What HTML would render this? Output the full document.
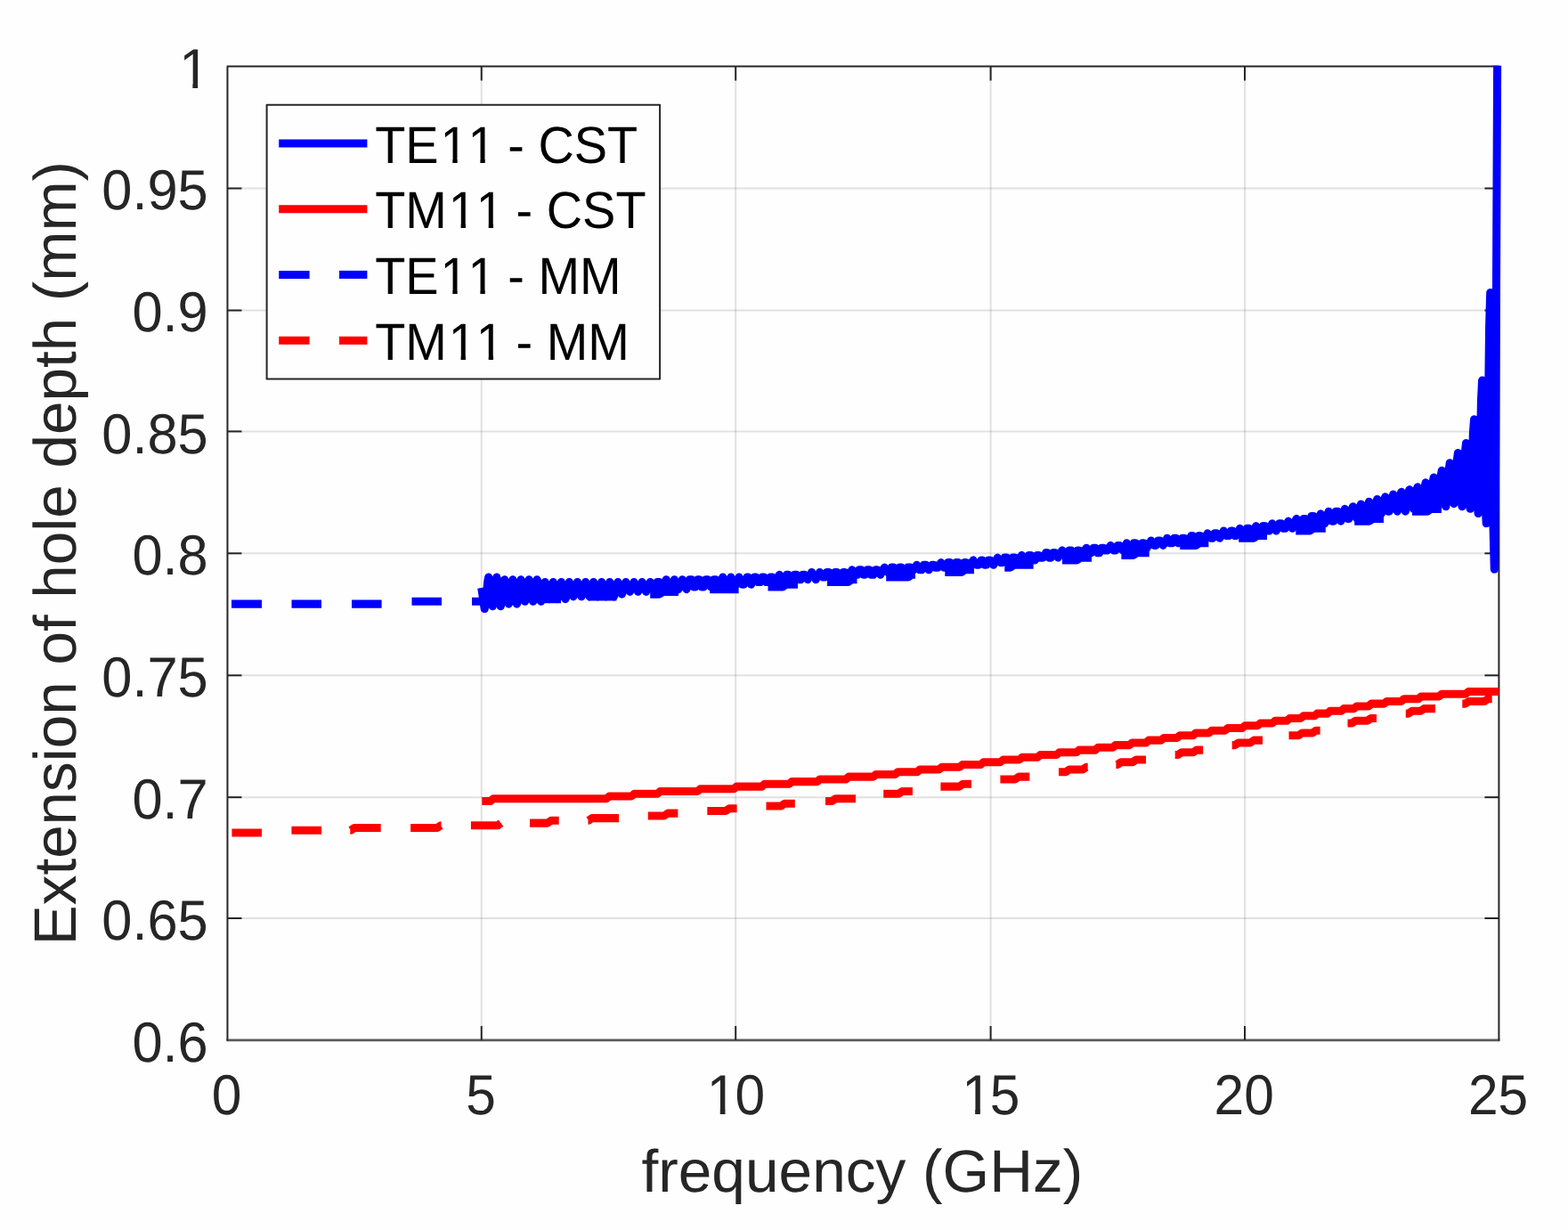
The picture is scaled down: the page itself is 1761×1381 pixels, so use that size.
<!DOCTYPE html>
<html lang="en">
<head>
<meta charset="utf-8">
<title>Extension of hole depth vs frequency</title>
<style>
html,body{margin:0;padding:0;background:#fefefe;}
body{width:1761px;height:1381px;overflow:hidden;position:relative;}
svg{display:block;}
svg text{white-space:pre;text-rendering:geometricPrecision;font-kerning:none;font-variant-ligatures:none;}
</style>
</head>
<body>
<svg width="1761" height="1381" viewBox="0 0 1761 1381" style="position:absolute;left:0;top:0">
<defs><clipPath id="ax"><rect x="254.4" y="73.8" width="1433.1" height="1095.4"/></clipPath></defs>
<rect x="0" y="0" width="1761" height="1381" fill="#fefefe"/>
<g stroke="#262626" stroke-opacity="0.135" stroke-width="2" fill="none"><line x1="540.75" y1="74.50" x2="540.75" y2="1167.95"/><line x1="826.20" y1="74.50" x2="826.20" y2="1167.95"/><line x1="1112.60" y1="74.50" x2="1112.60" y2="1167.95"/><line x1="1398.00" y1="74.50" x2="1398.00" y2="1167.95"/><line x1="255.45" y1="211.50" x2="1683.40" y2="211.50"/><line x1="255.45" y1="348.50" x2="1683.40" y2="348.50"/><line x1="255.45" y1="484.40" x2="1683.40" y2="484.40"/><line x1="255.45" y1="621.30" x2="1683.40" y2="621.30"/><line x1="255.45" y1="758.30" x2="1683.40" y2="758.30"/><line x1="255.45" y1="895.15" x2="1683.40" y2="895.15"/><line x1="255.45" y1="1031.00" x2="1683.40" y2="1031.00"/></g>
<g stroke="#262626" stroke-width="2" fill="none" stroke-linecap="butt" stroke-linejoin="round"><polyline points="255.45,1168.55 255.45,74.50 1683.40,74.50 1683.40,1168.55"/><line x1="254.45" y1="1167.95" x2="1684.40" y2="1167.95" stroke-width="2.7" stroke-opacity="0.76"/><line x1="540.75" y1="1167.95" x2="540.75" y2="1151.95"/><line x1="540.75" y1="74.50" x2="540.75" y2="90.50"/><line x1="826.20" y1="1167.95" x2="826.20" y2="1151.95"/><line x1="826.20" y1="74.50" x2="826.20" y2="90.50"/><line x1="1112.60" y1="1167.95" x2="1112.60" y2="1151.95"/><line x1="1112.60" y1="74.50" x2="1112.60" y2="90.50"/><line x1="1398.00" y1="1167.95" x2="1398.00" y2="1151.95"/><line x1="1398.00" y1="74.50" x2="1398.00" y2="90.50"/><line x1="255.45" y1="211.50" x2="271.45" y2="211.50"/><line x1="1683.40" y1="211.50" x2="1667.40" y2="211.50"/><line x1="255.45" y1="348.50" x2="271.45" y2="348.50"/><line x1="1683.40" y1="348.50" x2="1667.40" y2="348.50"/><line x1="255.45" y1="484.40" x2="271.45" y2="484.40"/><line x1="1683.40" y1="484.40" x2="1667.40" y2="484.40"/><line x1="255.45" y1="621.30" x2="271.45" y2="621.30"/><line x1="1683.40" y1="621.30" x2="1667.40" y2="621.30"/><line x1="255.45" y1="758.30" x2="271.45" y2="758.30"/><line x1="1683.40" y1="758.30" x2="1667.40" y2="758.30"/><line x1="255.45" y1="895.15" x2="271.45" y2="895.15"/><line x1="1683.40" y1="895.15" x2="1667.40" y2="895.15"/><line x1="255.45" y1="1031.00" x2="271.45" y2="1031.00"/><line x1="1683.40" y1="1031.00" x2="1667.40" y2="1031.00"/></g>
<g clip-path="url(#ax)">
<polyline points="540.7,660.0 541.6,665.9 542.5,671.7 543.3,677.6 544.2,683.5 545.3,678.1 546.5,667.1 547.6,653.5 548.7,648.0 549.8,653.5 551.0,664.4 552.1,675.3 553.3,680.8 554.4,675.3 555.5,664.4 556.6,653.5 557.8,648.0 558.9,653.5 560.1,664.4 561.2,675.3 562.3,680.8 563.5,675.3 564.6,667.1 565.7,656.2 566.8,650.7 568.0,656.2 569.1,664.4 570.3,675.3 571.4,678.1 572.5,675.3 573.7,664.4 574.8,656.2 575.9,650.7 577.1,656.2 578.2,664.4 579.3,675.3 580.5,678.1 581.6,675.3 582.7,664.4 583.9,656.2 585.0,650.7 586.1,653.5 587.3,664.4 588.4,672.6 589.6,675.3 590.7,672.6 591.8,664.4 592.9,653.5 594.1,650.7 595.2,653.5 596.3,664.4 597.5,672.6 598.6,675.3 599.8,672.6 600.9,664.4 602.0,653.5 603.1,650.7 604.3,653.5 605.4,664.4 606.6,672.6 607.7,675.3 608.8,672.6 610.0,664.4 611.1,656.2 612.2,653.5 613.4,656.2 614.5,664.4 615.6,669.9 616.8,672.6 617.9,669.9 619.0,664.4 620.2,656.2 621.3,653.5 622.4,656.2 623.6,664.4 624.7,669.9 625.9,672.6 627.0,669.9 628.1,664.4 629.2,656.2 630.4,653.5 631.5,656.2 632.6,664.4 633.8,669.9 634.9,672.6 636.1,669.9 637.2,664.4 638.3,656.2 639.4,653.5 640.6,656.2 641.7,661.7 642.9,667.1 644.0,669.9 645.1,667.1 646.2,661.7 647.4,656.2 648.5,653.5 649.6,656.2 650.8,661.7 651.9,667.1 653.1,669.9 654.2,667.1 655.3,661.7 656.4,656.2 657.6,653.5 658.7,656.2 659.9,661.7 661.0,667.1 662.1,669.9 663.3,667.1 664.4,661.7 665.5,656.2 666.6,653.5 667.8,656.2 668.9,661.7 670.1,667.1 671.2,669.9 672.3,667.1 673.5,661.7 674.6,656.2 675.7,653.5 676.9,656.2 678.0,661.7 679.1,667.1 680.3,669.9 681.4,667.1 682.5,661.7 683.7,656.2 684.8,653.5 685.9,656.2 687.1,661.7 688.2,667.1 689.4,669.9 690.5,667.1 691.6,661.7 692.7,656.2 693.9,653.5 695.0,656.2 696.1,661.7 697.3,664.4 698.4,667.1 699.6,664.4 700.7,661.7 701.8,656.2 702.9,653.5 704.1,656.2 705.2,658.9 706.4,661.7 707.5,664.4 708.6,661.7 709.8,658.9 710.9,656.2 712.0,653.5 713.1,656.2 714.3,658.9 715.4,661.7 716.6,664.4 717.7,661.7 718.8,658.9 720.0,656.2 721.1,653.5 722.2,656.2 723.4,658.9 724.5,661.7 725.7,664.4 726.8,661.7 727.9,658.9 729.0,656.2 730.2,653.5 731.3,656.2 732.4,658.9 733.6,661.7 734.7,661.7 735.8,661.7 737.0,658.9 738.1,653.5 739.2,653.5 740.4,653.5 741.5,658.9 742.7,661.7 743.8,661.7 744.9,661.7 746.0,656.2 747.2,653.5 748.3,650.7 749.4,653.5 750.6,656.2 751.7,661.7 752.9,661.7 754.0,658.9 755.1,656.2 756.2,653.5 757.4,650.7 758.5,653.5 759.7,656.2 760.8,658.9 761.9,661.7 763.1,658.9 764.2,656.2 765.3,653.5 766.4,650.7 767.6,653.5 768.7,656.2 769.9,658.9 771.0,661.7 772.1,658.9 773.3,656.2 774.4,650.7 775.5,650.7 776.7,650.7 777.8,656.2 778.9,658.9 780.1,658.9 781.2,658.9 782.3,656.2 783.5,650.7 784.6,650.7 785.7,650.7 786.9,653.5 788.0,658.9 789.2,658.9 790.3,658.9 791.4,653.5 792.5,650.7 793.7,650.7 794.8,650.7 795.9,653.5 797.1,656.2 798.2,658.9 799.4,656.2 800.5,653.5 801.6,650.7 802.7,650.7 803.9,650.7 805.0,653.5 806.2,656.2 807.3,658.9 808.4,656.2 809.6,653.5 810.7,650.7 811.8,648.0 812.9,650.7 814.1,653.5 815.2,656.2 816.4,656.2 817.5,656.2 818.6,653.5 819.8,650.7 820.9,648.0 822.0,650.7 823.2,653.5 824.3,656.2 825.5,656.2 826.6,656.2 827.7,653.5 828.8,650.7 830.0,648.0 831.1,650.7 832.2,653.5 833.4,656.2 834.5,656.2 835.6,656.2 836.8,653.5 837.9,650.7 839.0,648.0 840.2,648.0 841.3,650.7 842.5,653.5 843.6,656.2 844.7,653.5 845.8,650.7 847.0,648.0 848.1,648.0 849.2,648.0 850.4,650.7 851.5,653.5 852.7,653.5 853.8,653.5 854.9,650.7 856.0,648.0 857.2,648.0 858.3,648.0 859.5,650.7 860.6,653.5 861.7,653.5 862.9,653.5 864.0,650.7 865.1,648.0 866.2,648.0 867.4,648.0 868.5,650.7 869.7,653.5 870.8,653.5 871.9,653.5 873.1,650.7 874.2,648.0 875.3,645.3 876.5,648.0 877.6,648.0 878.7,650.7 879.9,653.5 881.0,650.7 882.1,648.0 883.3,645.3 884.4,645.3 885.5,645.3 886.7,648.0 887.8,650.7 889.0,650.7 890.1,650.7 891.2,648.0 892.3,645.3 893.5,645.3 894.6,645.3 895.7,648.0 896.9,650.7 898.0,650.7 899.2,650.7 900.3,648.0 901.4,645.3 902.5,645.3 903.7,645.3 904.8,648.0 906.0,648.0 907.1,650.7 908.2,648.0 909.4,648.0 910.5,645.3 911.6,642.5 912.7,645.3 913.9,645.3 915.0,648.0 916.2,650.7 917.3,648.0 918.4,645.3 919.6,645.3 920.7,642.5 921.8,645.3 923.0,645.3 924.1,648.0 925.2,648.0 926.4,648.0 927.5,645.3 928.6,642.5 929.7,642.5 930.9,642.5 932.0,645.3 933.2,648.0 934.3,648.0 935.4,648.0 936.6,645.3 937.7,642.5 938.8,642.5 940.0,642.5 941.1,645.3 942.3,648.0 943.4,648.0 944.5,645.3 945.6,645.3 946.8,642.5 947.9,642.5 949.0,642.5 950.2,645.3 951.3,645.3 952.5,648.0 953.6,645.3 954.7,642.5 955.8,642.5 957.0,639.8 958.1,642.5 959.3,642.5 960.4,645.3 961.5,645.3 962.7,645.3 963.8,642.5 964.9,639.8 966.0,639.8 967.2,639.8 968.3,642.5 969.5,645.3 970.6,645.3 971.7,645.3 972.9,642.5 974.0,639.8 975.1,639.8 976.3,639.8 977.4,642.5 978.5,645.3 979.7,645.3 980.8,645.3 981.9,642.5 983.1,639.8 984.2,639.8 985.3,639.8 986.5,642.5 987.6,642.5 988.8,645.3 989.9,642.5 991.0,639.8 992.1,639.8 993.3,637.1 994.4,639.8 995.5,639.8 996.7,642.5 997.8,642.5 999.0,642.5 1000.1,639.8 1001.2,637.1 1002.3,637.1 1003.5,637.1 1004.6,639.8 1005.8,642.5 1006.9,642.5 1008.0,642.5 1009.2,639.8 1010.3,637.1 1011.4,637.1 1012.5,637.1 1013.7,639.8 1014.8,639.8 1016.0,642.5 1017.1,639.8 1018.2,639.8 1019.3,637.1 1020.5,637.1 1021.6,637.1 1022.8,637.1 1023.9,639.8 1025.0,639.8 1026.2,639.8 1027.3,637.1 1028.4,637.1 1029.5,634.3 1030.7,637.1 1031.8,637.1 1033.0,639.8 1034.1,639.8 1035.2,639.8 1036.4,637.1 1037.5,634.3 1038.6,634.3 1039.8,634.3 1040.9,637.1 1042.0,637.1 1043.2,639.8 1044.3,637.1 1045.4,637.1 1046.6,634.3 1047.7,634.3 1048.8,634.3 1050.0,637.1 1051.1,637.1 1052.3,637.1 1053.4,637.1 1054.5,634.3 1055.6,634.3 1056.8,631.6 1057.9,634.3 1059.1,634.3 1060.2,637.1 1061.3,637.1 1062.5,637.1 1063.6,634.3 1064.7,631.6 1065.8,631.6 1067.0,631.6 1068.1,634.3 1069.3,637.1 1070.4,637.1 1071.5,637.1 1072.7,634.3 1073.8,631.6 1074.9,631.6 1076.1,631.6 1077.2,634.3 1078.3,634.3 1079.5,637.1 1080.6,634.3 1081.7,634.3 1082.9,631.6 1084.0,631.6 1085.1,631.6 1086.3,634.3 1087.4,634.3 1088.6,634.3 1089.7,634.3 1090.8,631.6 1091.9,631.6 1093.1,628.9 1094.2,631.6 1095.3,631.6 1096.5,634.3 1097.6,634.3 1098.8,634.3 1099.9,631.6 1101.0,631.6 1102.1,628.9 1103.3,628.9 1104.4,631.6 1105.6,634.3 1106.7,634.3 1107.8,634.3 1109.0,631.6 1110.1,628.9 1111.2,628.9 1112.3,628.9 1113.5,631.6 1114.6,631.6 1115.8,634.3 1116.9,631.6 1118.0,631.6 1119.1,628.9 1120.3,626.1 1121.4,628.9 1122.6,628.9 1123.7,631.6 1124.8,631.6 1126.0,631.6 1127.1,628.9 1128.2,626.1 1129.3,626.1 1130.5,626.1 1131.6,628.9 1132.8,631.6 1133.9,631.6 1135.0,631.6 1136.2,628.9 1137.3,626.1 1138.4,626.1 1139.6,626.1 1140.7,628.9 1141.8,628.9 1143.0,631.6 1144.1,628.9 1145.2,626.1 1146.4,626.1 1147.5,623.4 1148.6,626.1 1149.8,626.1 1150.9,628.9 1152.1,628.9 1153.2,628.9 1154.3,626.1 1155.4,623.4 1156.6,623.4 1157.7,623.4 1158.8,626.1 1160.0,628.9 1161.1,628.9 1162.3,628.9 1163.4,626.1 1164.5,623.4 1165.6,623.4 1166.8,623.4 1167.9,626.1 1169.1,626.1 1170.2,626.1 1171.3,626.1 1172.5,623.4 1173.6,623.4 1174.7,620.6 1175.9,620.6 1177.0,623.4 1178.1,626.1 1179.3,626.1 1180.4,626.1 1181.5,623.4 1182.7,620.6 1183.8,620.6 1184.9,620.6 1186.1,623.4 1187.2,623.4 1188.4,626.1 1189.5,623.4 1190.6,623.4 1191.7,620.6 1192.9,617.9 1194.0,620.6 1195.1,620.6 1196.3,623.4 1197.4,623.4 1198.6,623.4 1199.7,620.6 1200.8,617.9 1201.9,617.9 1203.1,617.9 1204.2,620.6 1205.4,623.4 1206.5,623.4 1207.6,623.4 1208.7,620.6 1209.9,617.9 1211.0,617.9 1212.1,617.9 1213.3,620.6 1214.4,620.6 1215.6,623.4 1216.7,620.6 1217.8,617.9 1218.9,617.9 1220.1,615.2 1221.2,617.9 1222.4,617.9 1223.5,620.6 1224.6,620.6 1225.8,620.6 1226.9,617.9 1228.0,615.2 1229.1,615.2 1230.3,615.2 1231.4,617.9 1232.6,620.6 1233.7,620.6 1234.8,620.6 1236.0,617.9 1237.1,615.2 1238.2,615.2 1239.4,615.2 1240.5,617.9 1241.6,617.9 1242.8,617.9 1243.9,617.9 1245.0,615.2 1246.2,615.2 1247.3,612.4 1248.4,615.2 1249.6,615.2 1250.7,617.9 1251.9,617.9 1253.0,617.9 1254.1,615.2 1255.2,612.4 1256.4,612.4 1257.5,612.4 1258.6,615.2 1259.8,615.2 1260.9,617.9 1262.1,615.2 1263.2,615.2 1264.3,612.4 1265.4,609.7 1266.6,612.4 1267.7,612.4 1268.9,615.2 1270.0,615.2 1271.1,615.2 1272.3,612.4 1273.4,609.7 1274.5,609.7 1275.6,609.7 1276.8,612.4 1277.9,615.2 1279.1,615.2 1280.2,615.2 1281.3,612.4 1282.5,609.7 1283.6,609.7 1284.7,609.7 1285.9,612.4 1287.0,612.4 1288.2,615.2 1289.3,612.4 1290.4,609.7 1291.5,609.7 1292.7,607.0 1293.8,609.7 1294.9,609.7 1296.1,612.4 1297.2,612.4 1298.3,612.4 1299.5,609.7 1300.6,607.0 1301.7,607.0 1302.9,607.0 1304.0,609.7 1305.2,609.7 1306.3,612.4 1307.4,609.7 1308.5,609.7 1309.7,607.0 1310.8,604.2 1311.9,607.0 1313.1,607.0 1314.2,609.7 1315.4,609.7 1316.5,609.7 1317.6,607.0 1318.7,604.2 1319.9,604.2 1321.0,604.2 1322.2,607.0 1323.3,609.7 1324.4,609.7 1325.6,609.7 1326.7,607.0 1327.8,604.2 1328.9,604.2 1330.1,604.2 1331.2,607.0 1332.4,607.0 1333.5,607.0 1334.6,607.0 1335.8,604.2 1336.9,604.2 1338.0,601.5 1339.2,601.5 1340.3,604.2 1341.4,607.0 1342.6,607.0 1343.7,607.0 1344.8,604.2 1346.0,601.5 1347.1,601.5 1348.2,601.5 1349.4,604.2 1350.5,604.2 1351.7,607.0 1352.8,604.2 1353.9,601.5 1355.0,601.5 1356.2,598.8 1357.3,601.5 1358.4,601.5 1359.6,604.2 1360.7,604.2 1361.9,604.2 1363.0,601.5 1364.1,598.8 1365.2,598.8 1366.4,598.8 1367.5,601.5 1368.7,601.5 1369.8,604.2 1370.9,601.5 1372.1,601.5 1373.2,598.8 1374.3,596.0 1375.4,598.8 1376.6,598.8 1377.7,601.5 1378.9,601.5 1380.0,601.5 1381.1,598.8 1382.3,596.0 1383.4,596.0 1384.5,596.0 1385.7,598.8 1386.8,601.5 1388.0,601.5 1389.1,598.8 1390.2,598.8 1391.3,596.0 1392.5,593.3 1393.6,596.0 1394.7,596.0 1395.9,598.8 1397.0,598.8 1398.1,598.8 1399.3,596.0 1400.4,593.3 1401.5,593.3 1402.7,593.3 1403.8,596.0 1405.0,598.8 1406.1,598.8 1407.2,598.8 1408.3,596.0 1409.5,593.3 1410.6,590.6 1411.7,593.3 1412.9,593.3 1414.0,596.0 1415.2,598.8 1416.3,596.0 1417.4,593.3 1418.5,590.6 1419.7,590.6 1420.8,590.6 1422.0,593.3 1423.1,596.0 1424.2,596.0 1425.4,596.0 1426.5,593.3 1427.6,590.6 1428.7,587.8 1429.9,590.6 1431.0,593.3 1432.2,593.3 1433.3,596.0 1434.4,593.3 1435.6,590.6 1436.7,587.8 1437.8,587.8 1439.0,587.8 1440.1,590.6 1441.2,593.3 1442.4,593.3 1443.5,593.3 1444.6,590.6 1445.8,587.8 1446.9,585.1 1448.0,587.8 1449.2,587.8 1450.3,590.6 1451.5,593.3 1452.6,590.6 1453.7,587.8 1454.8,585.1 1456.0,582.4 1457.1,585.1 1458.2,587.8 1459.4,590.6 1460.5,590.6 1461.7,590.6 1462.8,585.1 1463.9,582.4 1465.0,582.4 1466.2,582.4 1467.3,585.1 1468.5,587.8 1469.6,590.6 1470.7,587.8 1471.9,585.1 1473.0,579.6 1474.1,579.6 1475.2,579.6 1476.4,585.1 1477.5,587.8 1478.7,587.8 1479.8,587.8 1480.9,582.4 1482.1,579.6 1483.2,576.9 1484.3,579.6 1485.5,582.4 1486.6,585.1 1487.7,587.8 1488.9,585.1 1490.0,582.4 1491.1,576.9 1492.2,574.2 1493.4,576.9 1494.5,579.6 1495.7,585.1 1496.8,585.1 1497.9,585.1 1499.1,579.6 1500.2,574.2 1501.3,574.2 1502.5,574.2 1503.6,579.6 1504.8,582.4 1505.9,585.1 1507.0,582.4 1508.1,576.9 1509.3,574.2 1510.4,571.4 1511.5,574.2 1512.7,576.9 1513.8,582.4 1515.0,582.4 1516.1,579.6 1517.2,576.9 1518.3,571.4 1519.5,568.7 1520.6,571.4 1521.8,574.2 1522.9,579.6 1524.0,582.4 1525.2,579.6 1526.3,574.2 1527.4,568.7 1528.5,566.0 1529.7,568.7 1530.8,574.2 1532.0,576.9 1533.1,579.6 1534.2,576.9 1535.4,571.4 1536.5,566.0 1537.6,563.2 1538.8,566.0 1539.9,571.4 1541.0,576.9 1542.2,579.6 1543.3,576.9 1544.4,568.7 1545.6,563.2 1546.7,560.5 1547.8,563.2 1549.0,568.7 1550.1,574.2 1551.3,576.9 1552.4,574.2 1553.5,568.7 1554.6,560.5 1555.8,557.8 1556.9,560.5 1558.0,566.0 1559.2,574.2 1560.3,574.2 1561.5,571.4 1562.6,566.0 1563.7,557.8 1564.8,555.0 1566.0,557.8 1567.1,566.0 1568.3,571.4 1569.4,574.2 1570.5,571.4 1571.7,563.2 1572.8,555.0 1573.9,552.3 1575.0,555.0 1576.2,563.2 1577.3,568.7 1578.5,574.2 1579.6,568.7 1580.7,560.5 1581.8,552.3 1583.0,549.6 1584.1,552.3 1585.3,560.5 1586.4,568.7 1587.5,571.4 1588.7,568.7 1589.8,557.8 1590.9,549.6 1592.0,546.8 1593.2,549.6 1594.3,557.8 1595.5,568.7 1596.6,571.4 1597.7,566.0 1598.9,557.8 1600.0,546.8 1601.1,541.9 1602.3,546.1 1603.4,556.1 1604.5,566.2 1605.7,570.4 1606.8,565.3 1607.9,553.2 1609.1,541.1 1610.2,536.0 1611.3,540.9 1612.5,552.8 1613.6,564.6 1614.8,569.5 1615.9,563.5 1617.0,548.9 1618.1,534.3 1619.3,528.2 1620.4,534.1 1621.6,548.5 1622.7,562.8 1623.8,568.7 1625.0,561.5 1626.1,544.2 1627.2,526.9 1628.3,519.7 1629.5,526.4 1630.6,542.6 1631.8,558.8 1632.9,565.5 1634.0,557.1 1635.2,537.1 1636.3,517.0 1637.4,508.6 1638.6,517.4 1639.7,538.6 1640.8,559.9 1642.0,568.7 1643.1,558.3 1644.2,533.1 1645.4,507.9 1646.5,497.5 1647.6,508.3 1648.8,534.4 1649.9,560.5 1651.1,571.3 1652.2,556.5 1653.3,521.0 1654.4,485.5 1655.6,470.7 1656.7,486.2 1657.8,523.6 1659.0,561.0 1660.1,576.5 1661.3,554.6 1662.4,501.8 1663.5,449.0 1664.6,427.1 1665.8,450.6 1666.9,507.4 1668.1,564.1 1669.2,587.6 1670.3,549.7 1671.5,458.1 1672.6,366.5 1673.7,328.6 1674.8,374.1 1676.0,483.9 1677.1,593.6 1678.3,639.1 1679.6,524.2 1680.8,246.8 1682.1,-30.6 1683.4,-145.5" fill="none" stroke="#0000ff" stroke-width="9.05" stroke-linejoin="round" stroke-linecap="butt"/>
<polyline points="541.3,899.5 550.9,899.5 553.9,896.7 681.2,896.7 684.2,894.0 709.3,894.0 712.3,891.3 738.3,891.3 741.3,888.5 783.4,888.5 786.4,885.8 824.1,885.8 827.1,883.1 855.6,883.1 858.6,880.3 886.2,880.3 889.2,877.6 917.8,877.6 920.8,874.9 950.1,874.9 953.1,872.1 980.8,872.1 983.8,869.4 1005.5,869.4 1008.5,866.7 1030.2,866.7 1033.2,863.9 1054.9,863.9 1057.9,861.2 1077.9,861.2 1080.9,858.5 1101.5,858.5 1104.5,855.7 1123.6,855.7 1126.6,853.0 1144.9,853.0 1147.9,850.3 1165.4,850.3 1168.4,847.5 1186.7,847.5 1189.7,844.8 1208.8,844.8 1211.8,842.1 1230.1,842.1 1233.1,839.3 1249.7,839.3 1252.7,836.6 1268.5,836.6 1271.5,833.9 1287.2,833.9 1290.2,831.1 1304.2,831.1 1307.2,828.4 1322.1,828.4 1325.1,825.7 1340.0,825.7 1343.0,822.9 1357.9,822.9 1360.9,820.2 1375.9,820.2 1378.9,817.5 1395.2,817.5 1398.2,814.7 1412.5,814.7 1415.5,812.0 1429.0,812.0 1432.0,809.3 1445.4,809.3 1448.4,806.5 1460.8,806.5 1463.8,803.8 1476.3,803.8 1479.3,801.1 1490.8,801.1 1493.8,798.3 1506.2,798.3 1509.2,795.6 1520.7,795.6 1523.7,792.9 1537.1,792.9 1540.1,790.1 1554.5,790.1 1557.5,787.4 1573.8,787.4 1576.8,784.7 1593.1,784.7 1596.1,781.9 1616.3,781.9 1619.3,779.2 1646.2,779.2 1649.2,776.5 1683.4,776.5" fill="none" stroke="#ff0000" stroke-width="9.05" stroke-linejoin="round" stroke-linecap="butt"/>
<polyline points="260.0,678.1 294.0,678.1" fill="none" stroke="#0000ff" stroke-width="9.05" stroke-linejoin="round" stroke-linecap="butt"/>
<polyline points="327.5,678.1 361.0,678.1" fill="none" stroke="#0000ff" stroke-width="9.05" stroke-linejoin="round" stroke-linecap="butt"/>
<polyline points="395.0,678.1 428.6,678.1" fill="none" stroke="#0000ff" stroke-width="9.05" stroke-linejoin="round" stroke-linecap="butt"/>
<polyline points="462.5,675.3 496.0,675.3" fill="none" stroke="#0000ff" stroke-width="9.05" stroke-linejoin="round" stroke-linecap="butt"/>
<polyline points="530.0,675.3 563.0,675.3" fill="none" stroke="#0000ff" stroke-width="9.05" stroke-linejoin="round" stroke-linecap="butt"/>
<polyline points="597.0,672.6 630.0,672.6" fill="none" stroke="#0000ff" stroke-width="9.05" stroke-linejoin="round" stroke-linecap="butt"/>
<polyline points="660.6,669.9 692.4,669.9" fill="none" stroke="#0000ff" stroke-width="9.05" stroke-linejoin="round" stroke-linecap="butt"/>
<polyline points="730.2,667.1 740.7,667.1 744.7,664.4 762.0,664.4" fill="none" stroke="#0000ff" stroke-width="9.05" stroke-linejoin="round" stroke-linecap="butt"/>
<polyline points="797.2,661.7 829.6,661.7" fill="none" stroke="#0000ff" stroke-width="9.05" stroke-linejoin="round" stroke-linecap="butt"/>
<polyline points="862.5,658.9 879.0,658.9 883.0,656.2 896.0,656.2" fill="none" stroke="#0000ff" stroke-width="9.05" stroke-linejoin="round" stroke-linecap="butt"/>
<polyline points="929.0,653.5 952.5,653.5 956.5,650.7 962.5,650.7" fill="none" stroke="#0000ff" stroke-width="9.05" stroke-linejoin="round" stroke-linecap="butt"/>
<polyline points="995.2,648.0 1020.0,648.0 1024.0,645.3 1028.0,645.3" fill="none" stroke="#0000ff" stroke-width="9.05" stroke-linejoin="round" stroke-linecap="butt"/>
<polyline points="1061.3,642.5 1079.8,642.5 1083.8,639.8 1094.0,639.8" fill="none" stroke="#0000ff" stroke-width="9.05" stroke-linejoin="round" stroke-linecap="butt"/>
<polyline points="1128.3,637.1 1134.8,637.1 1138.8,634.3 1160.6,634.3" fill="none" stroke="#0000ff" stroke-width="9.05" stroke-linejoin="round" stroke-linecap="butt"/>
<polyline points="1193.0,628.9 1209.7,628.9 1213.7,626.1 1226.0,626.1" fill="none" stroke="#0000ff" stroke-width="9.05" stroke-linejoin="round" stroke-linecap="butt"/>
<polyline points="1259.4,623.4 1273.0,623.4 1277.0,620.6 1290.7,620.6" fill="none" stroke="#0000ff" stroke-width="9.05" stroke-linejoin="round" stroke-linecap="butt"/>
<polyline points="1325.3,612.4 1343.0,612.4 1347.0,609.7 1357.4,609.7" fill="none" stroke="#0000ff" stroke-width="9.05" stroke-linejoin="round" stroke-linecap="butt"/>
<polyline points="1391.2,604.2 1408.0,604.2 1412.0,601.5 1423.0,601.5" fill="none" stroke="#0000ff" stroke-width="9.05" stroke-linejoin="round" stroke-linecap="butt"/>
<polyline points="1455.3,596.0 1471.0,596.0 1475.0,593.3 1488.8,593.3" fill="none" stroke="#0000ff" stroke-width="9.05" stroke-linejoin="round" stroke-linecap="butt"/>
<polyline points="1521.2,585.1 1538.0,585.1 1542.0,582.4 1554.0,582.4" fill="none" stroke="#0000ff" stroke-width="9.05" stroke-linejoin="round" stroke-linecap="butt"/>
<polyline points="1586.0,574.2 1603.0,574.2 1607.0,571.4 1619.0,571.4" fill="none" stroke="#0000ff" stroke-width="9.05" stroke-linejoin="round" stroke-linecap="butt"/>
<polyline points="1652.0,563.2 1668.0,563.2 1672.0,560.5 1679.0,560.5" fill="none" stroke="#0000ff" stroke-width="9.05" stroke-linejoin="round" stroke-linecap="butt"/>
<polyline points="260.4,935.0 294.0,935.0" fill="none" stroke="#ff0000" stroke-width="9.05" stroke-linejoin="round" stroke-linecap="butt"/>
<polyline points="327.4,932.3 361.1,932.3" fill="none" stroke="#ff0000" stroke-width="9.05" stroke-linejoin="round" stroke-linecap="butt"/>
<polyline points="393.3,932.3 394.0,932.3 398.0,929.5 427.7,929.5" fill="none" stroke="#ff0000" stroke-width="9.05" stroke-linejoin="round" stroke-linecap="butt"/>
<polyline points="461.1,929.5 491.0,929.5 495.0,926.8 495.5,926.8" fill="none" stroke="#ff0000" stroke-width="9.05" stroke-linejoin="round" stroke-linecap="butt"/>
<polyline points="528.9,926.8 559.0,926.8 562.6,924.1 562.6,924.1" fill="none" stroke="#ff0000" stroke-width="9.05" stroke-linejoin="round" stroke-linecap="butt"/>
<polyline points="595.0,924.1 615.0,924.1 619.0,921.3 627.7,921.3" fill="none" stroke="#ff0000" stroke-width="9.05" stroke-linejoin="round" stroke-linecap="butt"/>
<polyline points="660.5,921.3 661.0,921.3 665.0,918.6 695.0,918.6" fill="none" stroke="#ff0000" stroke-width="9.05" stroke-linejoin="round" stroke-linecap="butt"/>
<polyline points="727.8,915.9 746.0,915.9 750.0,913.1 761.4,913.1" fill="none" stroke="#ff0000" stroke-width="9.05" stroke-linejoin="round" stroke-linecap="butt"/>
<polyline points="794.3,910.4 815.0,910.4 819.0,907.7 827.6,907.7" fill="none" stroke="#ff0000" stroke-width="9.05" stroke-linejoin="round" stroke-linecap="butt"/>
<polyline points="860.5,904.9 877.2,904.9 881.2,902.2 892.8,902.2" fill="none" stroke="#ff0000" stroke-width="9.05" stroke-linejoin="round" stroke-linecap="butt"/>
<polyline points="927.0,899.5 934.3,899.5 938.3,896.7 961.0,896.7" fill="none" stroke="#ff0000" stroke-width="9.05" stroke-linejoin="round" stroke-linecap="butt"/>
<polyline points="992.2,891.3 1009.2,891.3 1013.2,888.5 1024.9,888.5" fill="none" stroke="#ff0000" stroke-width="9.05" stroke-linejoin="round" stroke-linecap="butt"/>
<polyline points="1056.4,883.1 1077.4,883.1 1081.4,880.3 1091.0,880.3" fill="none" stroke="#ff0000" stroke-width="9.05" stroke-linejoin="round" stroke-linecap="butt"/>
<polyline points="1123.4,874.9 1140.2,874.9 1144.2,872.1 1156.3,872.1" fill="none" stroke="#ff0000" stroke-width="9.05" stroke-linejoin="round" stroke-linecap="butt"/>
<polyline points="1189.0,866.7 1197.0,866.7 1201.0,863.9 1216.0,863.9 1220.0,861.2 1221.7,861.2" fill="none" stroke="#ff0000" stroke-width="9.05" stroke-linejoin="round" stroke-linecap="butt"/>
<polyline points="1253.4,858.5 1255.0,858.5 1259.0,855.7 1272.0,855.7 1276.0,853.0 1287.0,853.0" fill="none" stroke="#ff0000" stroke-width="9.05" stroke-linejoin="round" stroke-linecap="butt"/>
<polyline points="1319.7,847.5 1323.0,847.5 1327.0,844.8 1340.0,844.8 1344.0,842.1 1351.2,842.1" fill="none" stroke="#ff0000" stroke-width="9.05" stroke-linejoin="round" stroke-linecap="butt"/>
<polyline points="1383.7,836.6 1387.0,836.6 1391.0,833.9 1404.3,833.9 1408.3,831.1 1418.0,831.1" fill="none" stroke="#ff0000" stroke-width="9.05" stroke-linejoin="round" stroke-linecap="butt"/>
<polyline points="1447.5,825.7 1458.4,825.7 1462.4,822.9 1473.9,822.9 1477.9,820.2 1482.6,820.2" fill="none" stroke="#ff0000" stroke-width="9.05" stroke-linejoin="round" stroke-linecap="butt"/>
<polyline points="1513.5,812.0 1518.3,812.0 1522.3,809.3 1535.6,809.3 1539.6,806.5 1546.0,806.5" fill="none" stroke="#ff0000" stroke-width="9.05" stroke-linejoin="round" stroke-linecap="butt"/>
<polyline points="1578.8,801.1 1582.0,801.1 1586.0,798.3 1595.5,798.3 1599.5,795.6 1612.0,795.6" fill="none" stroke="#ff0000" stroke-width="9.05" stroke-linejoin="round" stroke-linecap="butt"/>
<polyline points="1642.3,790.1 1645.7,790.1 1649.7,787.4 1667.0,787.4 1671.0,784.7 1675.7,784.7" fill="none" stroke="#ff0000" stroke-width="9.05" stroke-linejoin="round" stroke-linecap="butt"/>
</g>
<text transform="translate(233.25,98.50) scale(1.0000,1.0300)" x="-34.15" dx="2.01" font-family="'Liberation Sans', Arial, Helvetica, sans-serif" font-size="61.40" fill="#262626">1</text>
<text transform="translate(233.75,235.17) scale(1.0000,1.0300)" x="-119.50" font-family="'Liberation Sans', Arial, Helvetica, sans-serif" font-size="61.40" fill="#262626">0.95</text>
<text transform="translate(233.75,371.85) scale(1.0000,1.0300)" x="-85.35" font-family="'Liberation Sans', Arial, Helvetica, sans-serif" font-size="61.40" fill="#262626">0.9</text>
<text transform="translate(233.75,508.52) scale(1.0000,1.0300)" x="-119.50" font-family="'Liberation Sans', Arial, Helvetica, sans-serif" font-size="61.40" fill="#262626">0.85</text>
<text transform="translate(233.75,645.20) scale(1.0000,1.0300)" x="-85.35" font-family="'Liberation Sans', Arial, Helvetica, sans-serif" font-size="61.40" fill="#262626">0.8</text>
<text transform="translate(233.75,781.87) scale(1.0000,1.0300)" x="-119.50" font-family="'Liberation Sans', Arial, Helvetica, sans-serif" font-size="61.40" fill="#262626">0.75</text>
<text transform="translate(233.75,918.55) scale(1.0000,1.0300)" x="-85.35" font-family="'Liberation Sans', Arial, Helvetica, sans-serif" font-size="61.40" fill="#262626">0.7</text>
<text transform="translate(233.75,1055.22) scale(1.0000,1.0300)" x="-119.50" font-family="'Liberation Sans', Arial, Helvetica, sans-serif" font-size="61.40" fill="#262626">0.65</text>
<text transform="translate(233.75,1191.90) scale(1.0000,1.0300)" x="-85.35" font-family="'Liberation Sans', Arial, Helvetica, sans-serif" font-size="61.40" fill="#262626">0.6</text>
<text transform="translate(254.65,1251.40) scale(0.9850,1.0300)" x="-17.07" font-family="'Liberation Sans', Arial, Helvetica, sans-serif" font-size="61.40" fill="#262626">0</text>
<text transform="translate(539.95,1251.40) scale(0.9850,1.0300)" x="-17.07" font-family="'Liberation Sans', Arial, Helvetica, sans-serif" font-size="61.40" fill="#262626">5</text>
<text transform="translate(825.40,1251.40) scale(0.9850,1.0300)" x="-34.15" dx="2.01 -2.01" font-family="'Liberation Sans', Arial, Helvetica, sans-serif" font-size="61.40" fill="#262626">10</text>
<text transform="translate(1111.80,1251.40) scale(0.9850,1.0300)" x="-34.15" dx="2.01 -2.01" font-family="'Liberation Sans', Arial, Helvetica, sans-serif" font-size="61.40" fill="#262626">15</text>
<text transform="translate(1397.20,1251.40) scale(0.9850,1.0300)" x="-34.15" font-family="'Liberation Sans', Arial, Helvetica, sans-serif" font-size="61.40" fill="#262626">20</text>
<text transform="translate(1682.60,1251.40) scale(0.9850,1.0300)" x="-34.15" font-family="'Liberation Sans', Arial, Helvetica, sans-serif" font-size="61.40" fill="#262626">25</text>
<g fill="#fefefe" stroke="none"><rect x="204.59" y="93.43" width="11.76" height="6.27"/><rect x="222.18" y="93.43" width="11.28" height="6.27"/><rect x="204.59" y="92.58" width="11.26" height="3.00"/><rect x="222.68" y="92.58" width="10.78" height="3.00"/><rect x="797.15" y="1246.33" width="11.60" height="6.27"/><rect x="814.50" y="1246.33" width="11.13" height="6.27"/><rect x="797.15" y="1245.48" width="11.10" height="3.00"/><rect x="815.00" y="1245.48" width="10.63" height="3.00"/><rect x="1083.55" y="1246.33" width="11.60" height="6.27"/><rect x="1100.90" y="1246.33" width="11.13" height="6.27"/><rect x="1083.55" y="1245.48" width="11.10" height="3.00"/><rect x="1101.40" y="1245.48" width="10.63" height="3.00"/></g>
<text transform="translate(968.40,1337.60) scale(0.9970,0.9900)" x="-248.67" font-family="'Liberation Sans', Arial, Helvetica, sans-serif" font-size="67.80" fill="#262626">frequency (GHz)</text>
<text transform="translate(85.30,621.10) rotate(-90) scale(0.9940,0.9900)" x="-442.80" font-family="'Liberation Sans', Arial, Helvetica, sans-serif" font-size="67.80" fill="#262626">Extension of hole depth (mm)</text>
<rect x="299.60" y="117.70" width="441.50" height="307.75" fill="#fefefe" stroke="#262626" stroke-width="2" stroke-linejoin="round"/>
<line x1="313.2" y1="161.00" x2="412.4" y2="161.00" stroke="#0000ff" stroke-width="9.05"/>
<text transform="translate(421.20,182.55) scale(1.0000,1.0450)" x="0.00" dx="0 0 1.83 0 -1.83" font-family="'Liberation Sans', Arial, Helvetica, sans-serif" font-size="55.90" fill="#000000">TE11 - CST</text>
<line x1="313.2" y1="234.80" x2="412.4" y2="234.80" stroke="#ff0000" stroke-width="9.05"/>
<text transform="translate(421.20,256.35) scale(1.0000,1.0450)" x="0.00" dx="0 0 1.83 0 -1.83" font-family="'Liberation Sans', Arial, Helvetica, sans-serif" font-size="55.90" fill="#000000">TM11 - CST</text>
<line x1="313.2" y1="308.40" x2="347.6" y2="308.40" stroke="#0000ff" stroke-width="9.05"/>
<line x1="381.0" y1="308.40" x2="412.4" y2="308.40" stroke="#0000ff" stroke-width="9.05"/>
<text transform="translate(421.20,329.95) scale(1.0000,1.0450)" x="0.00" dx="0 0 1.83 0 -1.83" font-family="'Liberation Sans', Arial, Helvetica, sans-serif" font-size="55.90" fill="#000000">TE11 - MM</text>
<line x1="313.2" y1="382.30" x2="347.6" y2="382.30" stroke="#ff0000" stroke-width="9.05"/>
<line x1="381.0" y1="382.30" x2="412.4" y2="382.30" stroke="#ff0000" stroke-width="9.05"/>
<text transform="translate(421.20,403.85) scale(1.0000,1.0450)" x="0.00" dx="0 0 1.83 0 -1.83" font-family="'Liberation Sans', Arial, Helvetica, sans-serif" font-size="55.90" fill="#000000">TM11 - MM</text>
<g fill="#fefefe" stroke="none"><rect x="497.52" y="177.84" width="10.80" height="5.91"/><rect x="513.66" y="177.84" width="10.36" height="5.91"/><rect x="497.52" y="176.99" width="10.30" height="3.00"/><rect x="514.16" y="176.99" width="9.86" height="3.00"/><rect x="528.61" y="177.84" width="10.80" height="5.91"/><rect x="544.75" y="177.84" width="10.36" height="5.91"/><rect x="528.61" y="176.99" width="10.30" height="3.00"/><rect x="545.25" y="176.99" width="9.86" height="3.00"/><rect x="506.80" y="251.64" width="10.80" height="5.91"/><rect x="522.94" y="251.64" width="10.36" height="5.91"/><rect x="506.80" y="250.79" width="10.30" height="3.00"/><rect x="523.44" y="250.79" width="9.86" height="3.00"/><rect x="537.89" y="251.64" width="10.80" height="5.91"/><rect x="554.03" y="251.64" width="10.36" height="5.91"/><rect x="537.89" y="250.79" width="10.30" height="3.00"/><rect x="554.53" y="250.79" width="9.86" height="3.00"/><rect x="497.52" y="325.24" width="10.80" height="5.91"/><rect x="513.66" y="325.24" width="10.36" height="5.91"/><rect x="497.52" y="324.39" width="10.30" height="3.00"/><rect x="514.16" y="324.39" width="9.86" height="3.00"/><rect x="528.61" y="325.24" width="10.80" height="5.91"/><rect x="544.75" y="325.24" width="10.36" height="5.91"/><rect x="528.61" y="324.39" width="10.30" height="3.00"/><rect x="545.25" y="324.39" width="9.86" height="3.00"/><rect x="506.80" y="399.14" width="10.80" height="5.91"/><rect x="522.94" y="399.14" width="10.36" height="5.91"/><rect x="506.80" y="398.29" width="10.30" height="3.00"/><rect x="523.44" y="398.29" width="9.86" height="3.00"/><rect x="537.89" y="399.14" width="10.80" height="5.91"/><rect x="554.03" y="399.14" width="10.36" height="5.91"/><rect x="537.89" y="398.29" width="10.30" height="3.00"/><rect x="554.53" y="398.29" width="9.86" height="3.00"/></g>
</svg>
</body>
</html>
